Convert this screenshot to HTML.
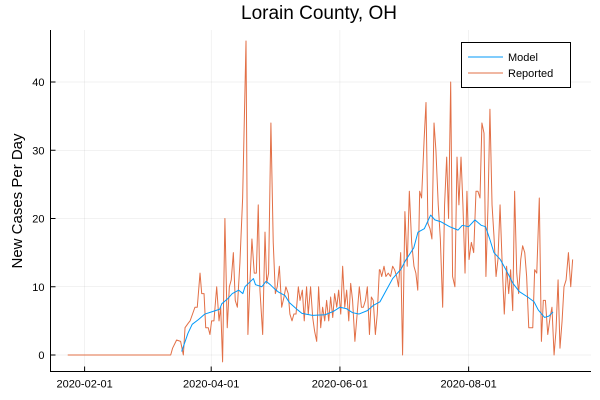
<!DOCTYPE html>
<html><head><meta charset="utf-8"><style>
body{margin:0;background:#fff}
svg{display:block;font-family:"Liberation Sans",sans-serif}
</style></head><body>
<svg id="chart" width="600" height="400" viewBox="0 0 600 400" xmlns="http://www.w3.org/2000/svg">
<text x="319" y="19" font-size="19" text-anchor="middle" fill="#000">Lorain County, OH</text>
<text transform="translate(22,201) rotate(-90)" font-size="15" text-anchor="middle" fill="#000">New Cases Per Day</text>
<g id="grid"></g>
<g id="axes"></g>
<g id="series"></g>
<g>
<rect x="461.5" y="42.5" width="109" height="45" fill="#fff" stroke="#000" stroke-width="1"/>
<line x1="468" y1="57" x2="503" y2="57" stroke="#009AFA" stroke-width="1"/>
<text x="508" y="61" font-size="11">Model</text>
<line x1="468" y1="73" x2="503" y2="73" stroke="#E26F46" stroke-width="1"/>
<text x="508" y="77" font-size="11">Reported</text>
</g>
</svg>
<script>
// day offsets from 2020-02-01
const xTickDays = [0, 60, 121, 182];
const xTickLabels = ["2020-02-01", "2020-04-01", "2020-06-01", "2020-08-01"];
const yTicks = [0, 10, 20, 30, 40];
const reportedDays = [-8,40.8,41.7,43.6,45.5,46.8,47.6,49.2,50,51.5,52.3,53.4,54.7,55.5,56.6,57.4,58.6,59.4,60.2,61.3,62.6,63.7,64.5,65.4,66.5,67.6,68.6,69.5,70.5,71.4,72.4,73.6,74.9,76.5,77.4,78.4,79.3,80.4,81.4,82.3,83.1,84.4,85.5,86.3,87.2,88.3,89.4,90.4,91.3,92.3,93.4,94.5,95.4,96.5,97.3,98.3,99.2,100.2,101.3,102.1,103.2,104.1,105.2,106,107.1,108.1,109,110,110.9,111.9,112.8,113.8,114.7,115.7,116.6,117.6,118.5,119.5,120.4,121.4,122.3,123.3,124.2,125.2,126.1,127,128.1,129.3,130.2,131.2,132.1,133.1,134,135,135.9,136.8,137.8,138.7,139.7,
140,140.8,141.9,142.8,143.9,145,146,146.9,147.9,148.8,149.8,150.7,151.8,152.9,153.9,155,156.1,157,157.9,158.8,159.7,160.9,161.8,162.7,163.7,164.6,165.6,166.5,167.6,168.6,169.7,170.6,171.6,172.5,173.5,174.4,175.5,176.5,177.4,178.4,179.3,180.3,181.2,182.2,183.3,184.4,185.5,186.4,187.4,188.3,189.3,190.2,191.2,192.1,193.1,194,195,195.9,196.9,198,198.9,200,201,201.9,202.9,203.8,204.8,205.7,206.7,207.6,208.6,209.5,210.5,211.4,212.4,213.3,214.3,215.5,216.5,217.4,218.4,219.5,220.6,221.5,222.5,223.4,224.4,225.3,226.3,227.2,228.2,229.3,230.4,231.3];
const reportedValues = [0,0,1,2.2,2,0,4,4.7,5,6.3,7,7,12,9,9,4,4,3,5,5,10,5,7,-1,20,4,10,11,15,8,7,13.5,23,46,3,11,17,12,12,22,9.5,3,18,10.5,12,34,16.5,9,10,13,7,8.5,10,9,6,5,6,6,10,8,9.5,5,10,6,10,5.5,3.5,2,10,4,7,5,8,5,8.5,5.5,9,7,9.5,6,13,7,9.5,5,10.5,8,2,6.5,10,7,7,8,10,3,8.5,8,3,6,12.5,
12.5,11.5,13,11.5,12,11.5,13,12.5,11.5,10,15,0,21,13,24,16.5,13,12,9.5,24,23,31.5,37,19.3,18.5,17,34,30,22,17,7,22,29,20,40,11.5,10,29,22,29,22,12,24,14,16.5,15,24,24,23,34,32.5,11.5,22,36,22,17.5,11.5,14,22,12.5,6,13,9,12.5,6.5,24,12,9,14,16,15,11.5,4,4,4,12.5,12,23,2,8,8,3,5.5,7,0,3.5,11,1,5,10,11,15,10,14];
const modelDays = [46,49,51,54,57,60,64,65,68,70,73,75,76,77,80,81,84,86,88,90,92,95,97,101,103,108,114,118,121,124,127,130,134,137,140,143,146,150,152,156,158,161,164,166,169,173,177,179,182,185,188,190,192,194,197,200,203,206,210,213,215,218,220,222];
const modelValues = [0.5,3.2,4.5,5.2,6,6.3,6.7,7.5,8.3,9,9.5,9,10,10.3,11.2,10.3,10,10.8,10.3,9.7,9.2,8.7,7.7,6.6,6.1,5.8,5.9,6.4,7,6.8,6.2,6,6.5,7.3,7.8,9.5,11.2,12.6,13.8,15.7,18,18.5,20.5,19.8,19.5,18.8,18.3,19,18.8,19.8,19,18.8,17,15,14,12.3,10.5,9.3,8.5,7.8,6.6,5.5,5.7,6.3];

const NS = "http://www.w3.org/2000/svg";
const L = 50.5, R = 591, T = 30, B = 371.5;
function xScale(d){ return 84.6 + d * 2.11; }
function yScale(v){ return 355 - v * 6.825; }
function mk(tag, attrs, parent){ const e = document.createElementNS(NS, tag); for (const k in attrs) e.setAttribute(k, attrs[k]); parent.appendChild(e); return e; }
const grid = document.getElementById('grid'), axes = document.getElementById('axes'), series = document.getElementById('series');

xTickDays.forEach((d, i) => {
  const x = xScale(d);
  const g = mk('line', {x1:x, y1:T, x2:x, y2:B, stroke:'#000', 'stroke-opacity':0.1, 'stroke-width':0.5}, grid);
  
  
  const t = mk('line', {x1:x, y1:B, x2:x, y2:B-5, stroke:'#000', 'stroke-width':1}, axes);
  
  
  const lb = mk('text', {x:x, y:B+16, 'font-size':11, 'text-anchor':'middle'}, axes);
  lb.textContent = xTickLabels[i];
  
  
});
yTicks.forEach(v => {
  const y = yScale(v);
  const g = mk('line', {x1:L, y1:y, x2:R, y2:y, stroke:'#000', 'stroke-opacity':0.1, 'stroke-width':0.5}, grid);
  
  
  const t = mk('line', {x1:L, y1:y, x2:L+5, y2:y, stroke:'#000', 'stroke-width':1}, axes);
  
  
  const lb = mk('text', {x:L-6, y:y+4, 'font-size':11, 'text-anchor':'end'}, axes);
  lb.textContent = String(v);
  
  
});
const ax = mk('path', {d:`M${L},${T} V${B} H${R}`, fill:'none', stroke:'#000', 'stroke-width':1}, axes);



const rp = reportedValues.map((v, i) => `${xScale(reportedDays[i]).toFixed(2)},${yScale(v).toFixed(2)}`).join(' ');
const rl = mk('polyline', {points:rp, fill:'none', stroke:'#E26F46', 'stroke-width':1, 'stroke-linejoin':'round'}, series);


const mp = modelDays.map((d, i) => `${xScale(d).toFixed(2)},${yScale(modelValues[i]).toFixed(2)}`).join(' ');
const ml = mk('polyline', {points:mp, fill:'none', stroke:'#009AFA', 'stroke-width':1, 'stroke-linejoin':'round'}, series);


</script>
</body></html>
